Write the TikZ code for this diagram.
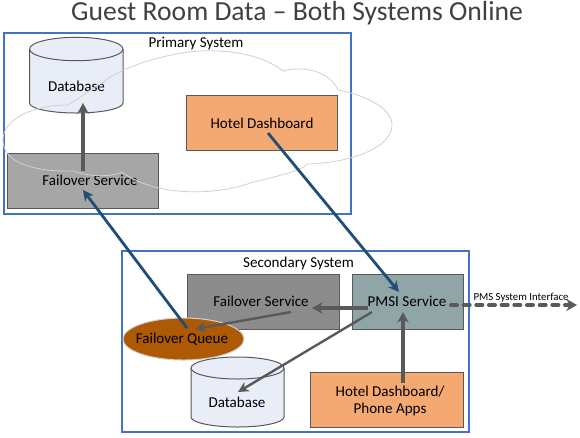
\documentclass[tikz,border=0pt]{standalone}
\usepackage{fontspec}
\setmainfont{Carlito}
\usetikzlibrary{arrows.meta,shapes.geometric}
\definecolor{frameblue}{HTML}{4472C4}
\definecolor{navyarrow}{HTML}{1F4E79}
\definecolor{greyarrow}{HTML}{595959}
\definecolor{edgegrey}{HTML}{595959}
\definecolor{orangebox}{HTML}{F4A872}
\definecolor{dbfill}{HTML}{E9EDF7}
\definecolor{queuefill}{HTML}{AE5A05}
\definecolor{pmsifill}{HTML}{8FA5A8}
\definecolor{cloudgrey}{HTML}{D0D0D0}
\definecolor{failtop}{HTML}{A6A6A6}
\definecolor{failbot}{HTML}{8C8C8C}
\tikzset{
  px/.style={x=0.75pt,y=-0.75pt},
  every node/.style={outer sep=0pt,inner sep=0pt},
  frame/.style={draw=frameblue,line width=1.5pt,anchor=north west},
  boxnode/.style={draw=edgegrey,line width=0.75pt,anchor=north west},
  txt/.style={font=\fontsize{11.3pt}{12.75pt}\selectfont,align=center},
  navy/.style={draw=navyarrow,line width=2.1pt,-{Stealth[length=8pt,width=8pt]}},
  greyline/.style={draw=greyarrow,line width=2.3pt,-{Stealth[length=8pt,width=8.5pt]}},
  greythin/.style={draw=greyarrow,line width=1.8pt,-{Stealth[length=8pt,width=8pt]}},
  dbshape/.style={draw=edgegrey,fill=dbfill,line width=0.75pt},
}
\newcommand{\boxpx}[6]{\node[boxnode,fill=#6,minimum width=#4*0.75pt,minimum height=#5*0.75pt] (#1) at (#2,#3) {};}
\begin{document}
\begin{tikzpicture}[px]
\useasboundingbox (0,0) rectangle (580,437);
\node[font=\fontsize{20.7pt}{24pt}\selectfont,text=black!75] (title) at (297,13) {Guest Room Data – Both Systems Online};
\node[frame,minimum width=347*0.75pt,minimum height=181*0.75pt] (primary) at (4,33) {};
\node[frame,minimum width=347*0.75pt,minimum height=181*0.75pt] (secondary) at (122,251) {};
\node[txt] (plabel) at (196,44) {Primary System};
\node[txt] (slabel) at (298.5,263.5) {Secondary System};
% top database
\draw[dbshape] (29.5,49) -- (29.5,103) arc[start angle=180,end angle=0,x radius=46.75,y radius=10] -- (123,49) arc[start angle=0,end angle=-180,x radius=46.75,y radius=11.7] -- cycle;
\draw[dbshape,fill=none] (29.5,49) arc[start angle=180,end angle=0,x radius=46.75,y radius=11.7];
\node[txt] (db1) at (76.5,86.7) {Database};
\boxpx{dash1}{186}{95}{151.5}{55}{orangebox}
\node[txt] (dash1t) at (262,123.3) {Hotel Dashboard};
\boxpx{fail1}{7.3}{153}{151.2}{55.7}{failtop}
\node[txt] (fail1t) at (90,180.3) {Failover Service};
% cloud
\draw[cloudgrey,line width=0.6pt] (68,105)
  .. controls (80,98) and (92,88) .. (104,82)
  .. controls (112,72) and (170,48) .. (218,51)
  .. controls (245,52) and (270,60) .. (283,71)
  .. controls (305,65) and (330,72) .. (338,90)
  .. controls (365,95) and (392,108) .. (392,125)
  .. controls (392,148) and (350,163) .. (307,164)
  .. controls (305,170) and (270,178) .. (250,183)
  .. controls (225,193) and (160,200) .. (122,172)
  .. controls (110,178) and (85,176) .. (74,171)
  .. controls (40,172) and (3,165) .. (3,140)
  .. controls (3,118) and (35,105) .. (68,105);
% bottom
\boxpx{fail2}{187}{274}{152}{55}{failbot}
\node[txt] (fail2t) at (261,301) {Failover Service};
\boxpx{pmsi}{352}{274}{111}{55}{pmsifill}
\node[txt] (pmsit) at (407,301) {PMSI Service};
\node[draw=black!18,fill=queuefill,line width=0.75pt,ellipse,minimum width=121*0.75pt,minimum height=42*0.75pt,txt] (queue) at (183.5,339) {};
\node[txt] (queuet) at (182,339.5) {Failover Queue};
\draw[dbshape] (191,368) -- (191,417) arc[start angle=180,end angle=0,x radius=46.5,y radius=10] -- (284,368) arc[start angle=0,end angle=-180,x radius=46.5,y radius=11] -- cycle;
\draw[dbshape,fill=none] (191,368) arc[start angle=180,end angle=0,x radius=46.5,y radius=11];
\node[txt] (db2) at (237,402.5) {Database};
\boxpx{apps}{310}{372}{153}{55}{orangebox}
\node[txt] (appst) at (390,400.5) {Hotel Dashboard/\\Phone Apps};
% connectors
\coordinate (a1s) at (83,171);\coordinate (a1e) at (83,103);
\draw[greyline] (a1s) -- (a1e);
\coordinate (a2s) at (268,133);\coordinate (a2e) at (399,292);
\draw[navy] (a2s) -- (a2e);
\coordinate (a3s) at (187,328);\coordinate (a3e) at (83,190);
\draw[navy] (a3s) -- (a3e);
\coordinate (a4s) at (291,312);\coordinate (a4e) at (195,329);
\draw[greythin] (a4s) -- (a4e);
\coordinate (a5s) at (368,308);\coordinate (a5e) at (312,308);
\draw[greyline] (a5s) -- (a5e);
\coordinate (a6s) at (372,312);\coordinate (a6e) at (238,392);
\draw[greythin] (a6s) -- (a6e);
\coordinate (a7s) at (403,383);\coordinate (a7e) at (403,312);
\draw[greyline] (a7s) -- (a7e);
\coordinate (a8s) at (451,305);\coordinate (a8e) at (577,305);
\draw[draw=greyarrow,line width=3pt,dash pattern=on 4.5pt off 5pt,line cap=round,-{Stealth[length=8pt,width=9pt]}] (a8s) -- (a8e);
\node[font=\fontsize{8.1pt}{9pt}\selectfont] (pmslabel) at (521,298) {PMS System Interface};
\end{tikzpicture}
\end{document}
